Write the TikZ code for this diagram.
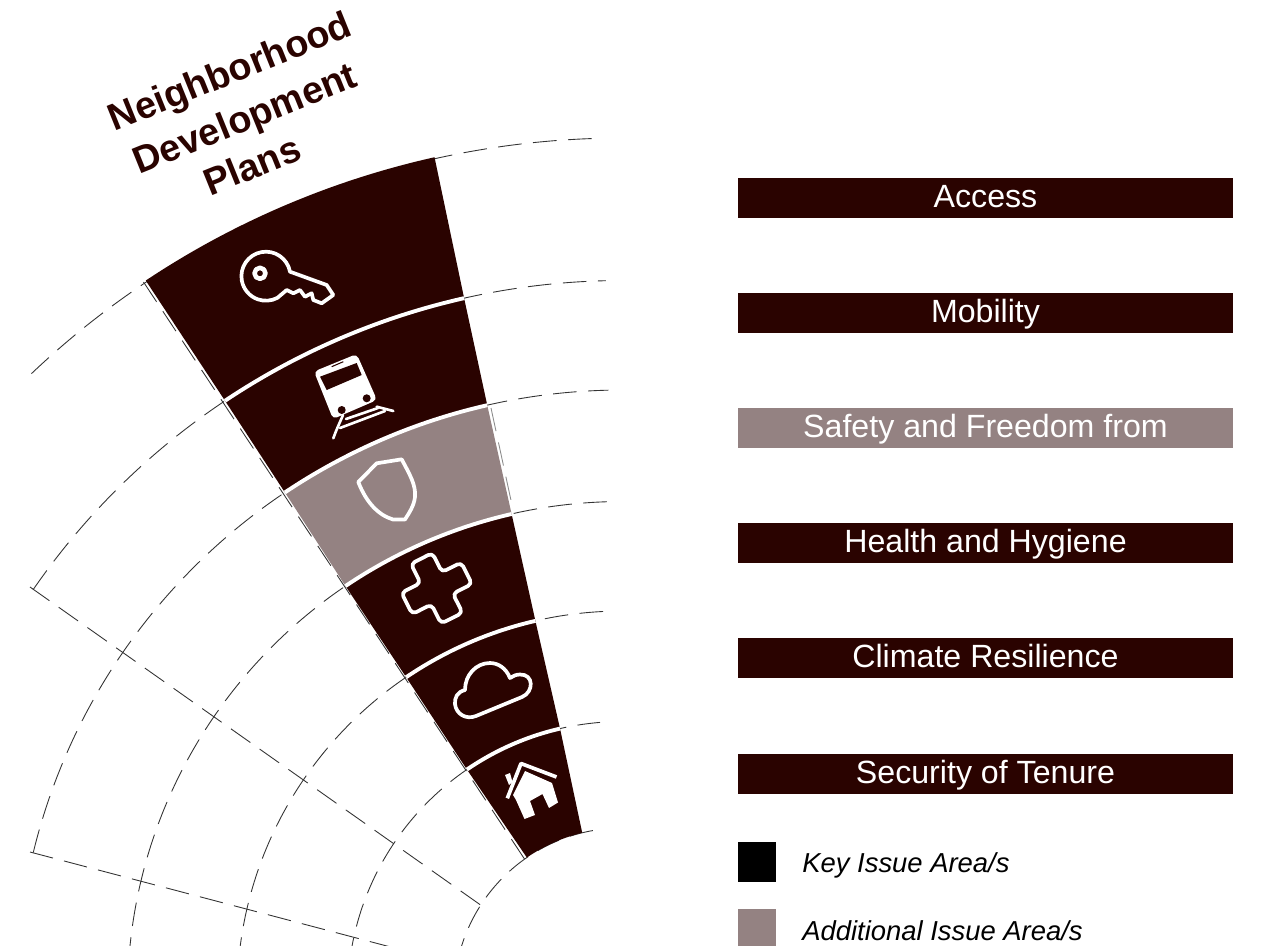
\documentclass[tikz,border=0pt]{standalone}
\usepackage{fontspec}
\setmainfont{Liberation Sans}
\usetikzlibrary{arrows}
\definecolor{darkmaroon}{HTML}{2A0300}
\definecolor{greymaroon}{HTML}{948282}

\begin{document}
\begin{tikzpicture}[x=0.02cm,y=0.02cm,
		gridline/.style={color=black!80,line width=0.5pt,dash pattern=on 13.5pt off 6.5pt},
		issuebar/.style={fill=darkmaroon,text=white,inner sep=0pt,minimum width=9.9cm,minimum height=0.8cm,text height=14pt,text depth=2.8pt,font=\fontsize{18.3}{20}\selectfont},
		legendbox/.style={inner sep=0pt,minimum width=0.76cm,minimum height=0.8cm},
		legendtext/.style={anchor=west,inner sep=0pt,font=\fontsize{15.6}{18}\selectfont\itshape},
		titleline/.style={rotate=22,text=darkmaroon,inner sep=0pt,font=\fontsize{21.5}{26}\selectfont\bfseries},
		iconline/.style={draw=white,line width=2.1pt,line join=round,line cap=round}]
	\path[use as bounding box,clip] (0,0) rectangle (1268,-946);
	\begin{scope}[shift={(622,-996)}]
		\foreach \r/\from/\to in {858/133.5/91.9,715.5/145.4/91.3,606/166.3/91.3,494.5/180/91.7,385/180/92.2,274.5/180/94.6,168/180/96.5}
		\draw[gridline] (\from:\r) arc[start angle=\from,end angle=\to,radius=\r];
	\end{scope}
	\draw[gridline] (30,-587) -- (482,-906);
	\draw[gridline] (30,-852) -- (440,-960);
	\draw[gridline] (143.5,-282) -- (524.5,-859);
	\draw[gridline,color=black!45] (491,-408) -- (512,-505);
	\begin{scope}[shift={(622,-996)}]
		\foreach \ra/\ar/\al/\rb/\br/\bl/\col in {859.5/102.6/123.65/715.5/102.75/123.7/darkmaroon,715.5/102.75/123.7/606/102.85/123.8/darkmaroon,606/102.85/123.8/494.5/102.9/124/greymaroon,494.5/102.9/124/385/103/124.1/darkmaroon,385/103/124.1/274.5/103.05/124.4/darkmaroon,274.5/103.05/124.4/168/103.7/124.5/darkmaroon}
		\fill[\col] (\ar:\ra) arc[start angle=\ar,end angle=\al,radius=\ra] -- (\bl:\rb) arc[start angle=\bl,end angle=\br,radius=\rb] -- cycle;
		\foreach \r/\ar/\al in {715.5/102.75/123.7,606/102.85/123.8,494.5/102.9/124,385/103/124.1,274.5/103.05/124.4}
		\draw[white,line width=2.2pt] (\ar:\r) arc[start angle=\ar,end angle=\al,radius=\r];
	\end{scope}
	% key
	\draw[iconline] (290,-271.7) arc[start angle=10.6,end angle=298,radius=24.5]
		-- (286.7,-290) -- (293.3,-293.3) -- (300,-290) -- (305,-296.7) -- (311.7,-293.3) -- (313.3,-300) -- (321.7,-303.3) -- (333.3,-295) -- (326.7,-285) -- cycle;
	\draw[iconline,line width=2.6pt] (260,-273.3) circle (5.5);
	% train
	\fill[white,rounded corners=2.5pt] (314,-371.5) -- (356.7,-354) -- (377,-400) -- (333,-419) -- cycle;
	\fill[darkmaroon] (320,-376.7) -- (356.7,-363) -- (361.7,-375) -- (326.7,-390) -- cycle;
	\fill[darkmaroon] (341.7,-410) circle (4);
	\fill[darkmaroon] (366.7,-398.3) circle (4);
	\draw[darkmaroon,line width=0.6pt] (331.7,-366.7) -- (343.3,-361.7);
	\draw[iconline,line width=1.5pt] (343,-415) .. controls (341,-420) and (337,-428) .. (333.3,-438.3);
	\draw[iconline,line width=1.5pt] (376.7,-406.7) -- (393.3,-411);
	\draw[iconline,line width=1.5pt] (346,-419) -- (378,-408);
	\draw[iconline,line width=1.5pt] (340,-428) -- (385,-411);
	% shield
	\draw[iconline] (358.3,-482) -- (376.7,-463.3) -- (401.7,-459.3) .. controls (410,-475) and (416,-485) .. (415,-497) .. controls (414,-506) and (409,-513) .. (405,-519.5) -- (393,-519.5) .. controls (378,-515) and (366,-502) .. (358.3,-482) -- cycle;
	% cross
	\begin{scope}[shift={(436.7,-588.3)},rotate=26.8]
		\draw[iconline,rounded corners=2.5pt] (-12,33.5) -- (12,33.5) -- (12,12) -- (33.5,12) -- (33.5,-12) -- (12,-12) -- (12,-33.5) -- (-12,-33.5) -- (-12,-12) -- (-33.5,-12) -- (-33.5,12) -- (-12,12) -- cycle;
	\end{scope}
	% cloud
	\draw[iconline] (476,-716) -- (522,-697) .. controls (534,-692) and (534,-674) .. (520,-674.5) .. controls (516,-674.5) and (513,-676) .. (510,-678) .. controls (506,-668) and (498,-663) .. (490,-663) .. controls (476,-663) and (465,-675) .. (465,-690) .. controls (457,-692) and (454.5,-698) .. (455,-704) .. controls (456,-714) and (466,-720) .. (476,-716) -- cycle;
	% house
	\draw[iconline,line cap=butt] (507.3,-798.3) -- (521,-763.5) -- (556.5,-777);
	\fill[white] (505,-775) -- (510,-773) -- (512.5,-782) -- (509,-785) -- cycle;
	\fill[white] (525,-771) -- (552,-783) -- (558,-802.5) -- (549,-808) -- (542.5,-794) -- (530,-801) -- (535,-815) -- (524.5,-819) -- (516,-800) -- (513,-795) -- cycle;
	\node[titleline] (neighborhood) at (231,-74) {Neighborhood};
	\node[titleline] (development) at (246,-121) {Development};
	\node[titleline] (plans) at (252,-165) {Plans};
	\foreach \name/\y/\txt in {access/198/Access,mobility/313/Mobility,health/543/Health and Hygiene,climate/658/Climate Resilience,tenure/774/Security of Tenure}
	\node[issuebar] (\name) at (985.5,-\y) {\txt};
	\node[issuebar,fill=greymaroon] (safety) at (985.5,-428) {Safety and Freedom from};
	\node[legendbox,fill=black] (keybox) at (757,-862) {};
	\node[legendbox,fill=greymaroon] (addbox) at (757,-929) {};
	\node[legendtext] (keytext) at (802,-865) {Key Issue Area/s};
	\node[legendtext] (addtext) at (802,-931) {Additional Issue Area/s};
\end{tikzpicture}
\end{document}
